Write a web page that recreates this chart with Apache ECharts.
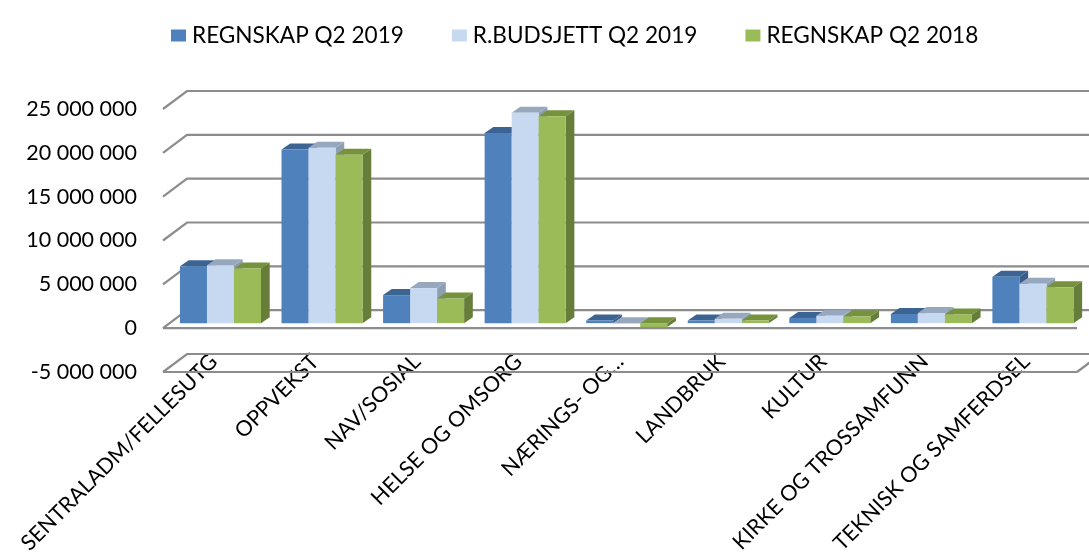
<!DOCTYPE html>
<html>
<head>
<meta charset="utf-8">
<script src="https://cdn.jsdelivr.net/npm/echarts@6/dist/echarts.min.js"></script>
<style>
html,body{margin:0;padding:0;background:#fff;}
#chart{width:1089px;height:559px;}
</style>
</head>
<body>
<div id="chart"></div>
<script>
// ---- data ----
const categories = ['SENTRALADM/FELLESUTG','OPPVEKST','NAV/SOSIAL','HELSE OG OMSORG','NÆRINGS- OG…','LANDBRUK','KULTUR','KIRKE OG TROSSAMFUNN','TEKNISK OG SAMFERDSEL'];
const seriesNames = ['REGNSKAP Q2 2019','R.BUDSJETT Q2 2019','REGNSKAP Q2 2018'];
const regnskap2019 = [6500000, 19800000, 3200000, 21700000, 300000, 300000, 600000, 1050000, 5300000];
const budsjett2019 = [6600000, 20000000, 4000000, 24000000, -100000, 500000, 850000, 1150000, 4500000];
const regnskap2018 = [6250000, 19200000, 2800000, 23600000, -450000, 300000, 750000, 1000000, 4100000];
const yTicks = [-5000000, 0, 5000000, 10000000, 15000000, 20000000, 25000000];

// ---- style ----
const FONT = 'Lato';
const DEPTH = [24, -18];          // wall depth offset in px
const BAR_FRONT = [6.7, -5];      // bar front face offset from front plane
const BAR_DEPTH = [8.7, -6];      // bar depth
const BAR_FRAC = 0.266;           // bar width as fraction of category band
const colors = [
  {front:'#4F81BD', top:'#3C6493', side:'#385D8A'},
  {front:'#C6D9F1', top:'#97A8BE', side:'#8E9FB4'},
  {front:'#9BBB59', top:'#76923C', side:'#677D3A'}
];

function fmt(v){
  const s = Math.abs(v).toString().replace(/\B(?=(\d{3})+(?!\d))/g,' ');
  return (v<0?'-':'') + s;
}

const chart = echarts.init(document.getElementById('chart'));

function wallRender(params, api){
  const cs = params.coordSys;
  const v = api.value(0);
  const y = api.coord([0, v])[1];
  const x0 = cs.x, x1 = cs.x + cs.width;
  const children = [];
  const ls = {stroke:'#8C8C8C', lineWidth:2.2, fill:null};
  children.push({type:'polyline', shape:{points:[[x0,y],[x0+DEPTH[0],y+DEPTH[1]],[x1+DEPTH[0],y+DEPTH[1]]]}, style:ls});
  if (v === 0 || v === yTicks[0]) {
    children.push({type:'line', shape:{x1:x0,y1:y,x2:x1,y2:y}, style:ls});
  }
  if (v === yTicks[0]) {
    children.push({type:'line', shape:{x1:x1,y1:y,x2:x1+DEPTH[0],y2:y+DEPTH[1]}, style:ls});
  }
  return {type:'group', children};
}

function barRender(s){
  return function(params, api){
    const i = api.value(0), v = api.value(1);
    const band = api.size([1,0])[0];
    const bw = band*BAR_FRAC;
    const cx = api.coord([i,0])[0];
    const yv = api.coord([i,v])[1] + BAR_FRONT[1];
    const y0 = api.coord([i,0])[1] + BAR_FRONT[1];
    const yH = Math.min(yv,y0), yL = Math.max(yv,y0);
    const x = cx - 1.5*bw + s*bw + BAR_FRONT[0];
    const dx = BAR_DEPTH[0], dy = BAR_DEPTH[1];
    const c = colors[s];
    return {type:'group', children:[
      {type:'polygon', shape:{points:[[x+bw,yH],[x+bw+dx,yH+dy],[x+bw+dx,yL+dy],[x+bw,yL]]}, style:{fill:c.side}},
      {type:'polygon', shape:{points:[[x,yH],[x+dx,yH+dy],[x+bw+dx,yH+dy],[x+bw,yH]]}, style:{fill:c.top}},
      {type:'rect', shape:{x:x,y:yH,width:bw,height:Math.max(yL-yH,0.8)}, style:{fill:c.front}}
    ]};
  };
}

const dataSets = [regnskap2019, budsjett2019, regnskap2018];

const option = {
  animation:false,
  textStyle:{fontFamily:FONT},
  legend:{
    top:19, left:166, itemWidth:15, itemHeight:12, itemGap:48,
    icon:'rect',
    textStyle:{fontFamily:FONT, fontSize:22.6, color:'#000', padding:[0,0,0,1]},
    data: seriesNames
  },
  grid:[
    {left:163, right:12, top:109, bottom:187},
    {left:163, right:12, top:100, bottom:207}
  ],
  xAxis:[
    {type:'category', data:categories, gridIndex:0, axisLine:{show:false}, axisTick:{show:false}, axisLabel:{show:false}},
    {type:'category', gridIndex:1, data:categories,
     axisLine:{show:false}, axisTick:{show:false},
     axisLabel:{rotate:45, margin:6, fontFamily:FONT, fontSize:21.5, color:'#000', interval:0}}
  ],
  yAxis:[
    {type:'value', gridIndex:0, min:-5000000, max:25000000, interval:5000000,
     axisLine:{show:false}, axisTick:{show:false}, splitLine:{show:false},
     axisLabel:{margin:26, fontFamily:FONT, fontSize:21.5, color:'#000', formatter:fmt}},
    {type:'value', gridIndex:1, show:false}
  ],
  series:[
    {type:'custom', name:'walls', silent:true, xAxisIndex:0, yAxisIndex:0, z:1,
     data: yTicks.map(v=>[v]), encode:{y:0}, renderItem:wallRender, clip:false},
    ...dataSets.map((d,s)=>({
      type:'custom', name:seriesNames[s], xAxisIndex:0, yAxisIndex:0, z:2+s,
      itemStyle:{color:colors[s].front},
      data:d.map((v,i)=>[i,v]), encode:{x:0,y:1},
      renderItem:barRender(s), clip:false
    }))
  ]
};
chart.setOption(option);
</script>
</body>
</html>
